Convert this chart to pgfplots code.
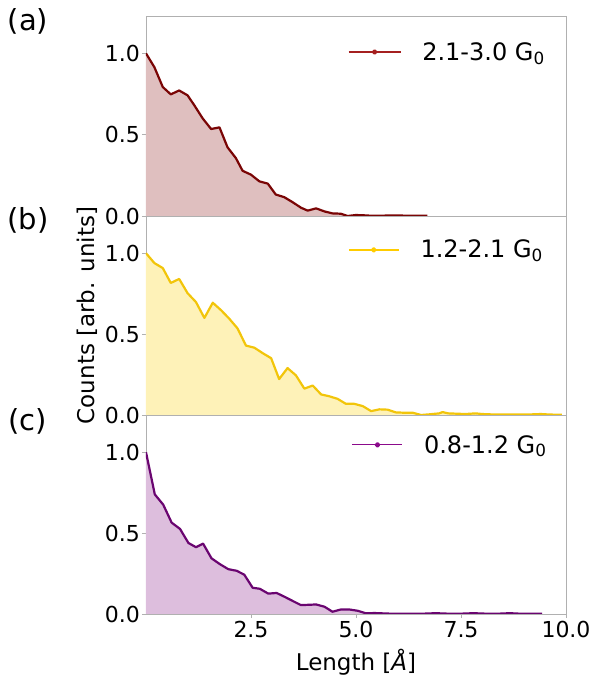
\documentclass[border=0pt]{standalone}
\usepackage{fontspec}
\setmainfont{DejaVu Sans}
\usepackage{pgfplots}
\pgfplotsset{compat=1.18}
\usepackage{pgfplotstable}

\definecolor{lineA}{HTML}{7A0505}
\definecolor{fillA}{HTML}{DFBFBF}
\definecolor{legA}{HTML}{A52020}
\definecolor{lineB}{HTML}{F2C50A}
\definecolor{fillB}{HTML}{FEF2B8}
\definecolor{legB}{HTML}{FFCC00}
\definecolor{lineC}{HTML}{6A0570}
\definecolor{fillC}{HTML}{DDBEDD}
\definecolor{legC}{HTML}{8B0A8B}
\definecolor{axgray}{HTML}{B0B0B0}

\pgfplotstableread{
x y
0.00 1.000
0.20 0.915
0.40 0.793
0.59 0.748
0.79 0.772
0.99 0.742
1.15 0.681
1.35 0.600
1.55 0.535
1.75 0.545
1.94 0.423
2.14 0.356
2.30 0.278
2.50 0.254
2.70 0.213
2.90 0.199
3.09 0.132
3.29 0.116
3.49 0.085
3.69 0.051
3.85 0.033
4.05 0.047
4.25 0.028
4.44 0.016
4.64 0.014
4.80 0.000
5.00 0.006
5.20 0.004
5.40 0.001
5.60 0.002
5.80 0.003
6.00 0.003
6.20 0.002
6.40 0.002
6.70 0.001
}\dataA

\pgfplotstableread{
x y
0.00 1.000
0.20 0.939
0.40 0.908
0.59 0.816
0.79 0.841
0.99 0.753
1.19 0.698
1.39 0.600
1.59 0.694
1.79 0.647
1.98 0.596
2.18 0.535
2.38 0.429
2.58 0.416
2.78 0.382
2.98 0.351
3.17 0.222
3.37 0.290
3.57 0.245
3.77 0.163
3.97 0.182
4.17 0.127
4.36 0.116
4.56 0.100
4.76 0.069
4.96 0.069
5.16 0.055
5.36 0.024
5.56 0.035
5.75 0.033
5.95 0.016
6.15 0.014
6.35 0.014
6.55 0.000
6.74 0.004
6.98 0.010
7.06 0.018
7.20 0.010
7.40 0.008
7.60 0.006
7.85 0.010
8.00 0.006
8.20 0.004
8.40 0.004
8.60 0.004
8.80 0.003
9.00 0.003
9.20 0.004
9.40 0.006
9.60 0.003
9.90 0.001
}\dataB

\pgfplotstableread{
x y
0.00 1.000
0.21 0.739
0.41 0.676
0.61 0.565
0.81 0.526
1.01 0.439
1.19 0.413
1.36 0.435
1.56 0.344
1.76 0.308
1.96 0.277
2.16 0.267
2.34 0.243
2.54 0.162
2.71 0.156
2.91 0.126
3.11 0.130
3.31 0.105
3.49 0.081
3.69 0.055
3.89 0.057
4.05 0.059
4.25 0.045
4.44 0.014
4.64 0.028
4.84 0.028
5.04 0.020
5.24 0.004
5.44 0.006
5.63 0.004
5.83 0.002
6.03 0.001
6.30 0.002
6.60 0.002
6.90 0.005
7.20 0.002
7.50 0.002
7.80 0.005
8.10 0.002
8.40 0.002
8.66 0.005
8.90 0.002
9.20 0.002
9.43 0.001
}\dataC

\tikzset{plab/.style={font=\fontsize{29bp}{34bp}\selectfont}}

\pgfplotsset{
  panel/.style={
    scale only axis, width=420bp,
    clip mode=individual,
    xmin=0, xmax=10, ymin=0, ymax=1.23,
    axis line style={axgray, line width=0.9bp},
    tick style={axgray, line width=0.9bp},
    major tick length=4bp,
    tick align=outside,
    xtick pos=bottom, ytick pos=left,
    ytick={0,0.5,1},
    /pgf/number format/assume math mode=true,
    yticklabel style={/pgf/number format/fixed, /pgf/number format/fixed zerofill, /pgf/number format/precision=1, inner sep=0pt, xshift=-2bp},
    xticklabel style={/pgf/number format/fixed, /pgf/number format/fixed zerofill, /pgf/number format/precision=1},
    tick label style={font=\fontsize{22bp}{26bp}\selectfont, black},
    label style={font=\fontsize{23bp}{27bp}\selectfont},
    legend cell align=left,
    legend style={draw=none, fill=none, inner sep=0pt, outer sep=0pt,
      font=\fontsize{24bp}{28bp}\selectfont,
      nodes={inner sep=0pt},
      /tikz/every odd column/.append style={column sep=21bp}},
  },
  fillplot/.style={draw=none, fill=#1, forget plot},
  lineplot/.style={draw=#1, line width=2.2bp, line join=round, mark=none},
}

\begin{document}
\begin{tikzpicture}
\useasboundingbox (-146bp,-63bp) rectangle (449bp,614bp);

% panel (c)
\begin{axis}[panel, at={(0,0)}, anchor=south west, height=199bp,
  xtick={2.5,5,7.5,10},
  xlabel={Length [\textit{Å}]},
  xlabel style={at={(axis description cs:0.5,-0.286)}, anchor=base},
  legend style={at={(axis description cs:0.49,0.85)}, anchor=west}]
\addplot[fillplot=fillC] table[x=x,y=y] {\dataC} \closedcycle;
\addplot[lineplot=lineC, legend image code/.code={
  \draw[legC, line width=1.3bp] (0bp,0bp) -- (50bp,0bp);
  \fill[legC] (25bp,0bp) circle (1.7bp);}] table[x=x,y=y] {\dataC};
\addlegendentry{0.8-1.2 G\textsubscript{0}}
\node[plab] at (axis description cs:-0.281,0.97) {(c)};
\end{axis}

% panel (b)
\begin{axis}[panel, at={(0,199bp)}, anchor=south west, height=199bp,
  xtick=\empty,
  ylabel={Counts [arb. units]},
  ylabel style={at={(axis description cs:-0.14,0.5)}, anchor=center},
  legend style={at={(axis description cs:0.481,0.83)}, anchor=west}]
\addplot[fillplot=fillB] table[x=x,y=y] {\dataB} \closedcycle;
\addplot[lineplot=lineB, legend image code/.code={
  \draw[legB, line width=1.5bp] (0bp,0bp) -- (50bp,0bp);
  \fill[legB] (25bp,0bp) circle (1.7bp);}] table[x=x,y=y] {\dataB};
\addlegendentry{1.2-2.1 G\textsubscript{0}}
\node[plab] at (axis description cs:-0.281,0.98) {(b)};
\end{axis}

% panel (a)
\begin{axis}[panel, at={(0,398bp)}, anchor=south west, height=200bp,
  xtick=\empty,
  legend style={at={(axis description cs:0.481,0.82)}, anchor=west}]
\addplot[fillplot=fillA] table[x=x,y=y] {\dataA} \closedcycle;
\addplot[lineplot=lineA, legend image code/.code={
  \draw[legA, line width=1.3bp] (0bp,0bp) -- (52bp,0bp);
  \fill[legA] (26bp,0bp) circle (1.7bp);}] table[x=x,y=y] {\dataA};
\addlegendentry{2.1-3.0 G\textsubscript{0}}
\node[plab] at (axis description cs:-0.281,0.975) {(a)};
\end{axis}
\end{tikzpicture}
\end{document}
